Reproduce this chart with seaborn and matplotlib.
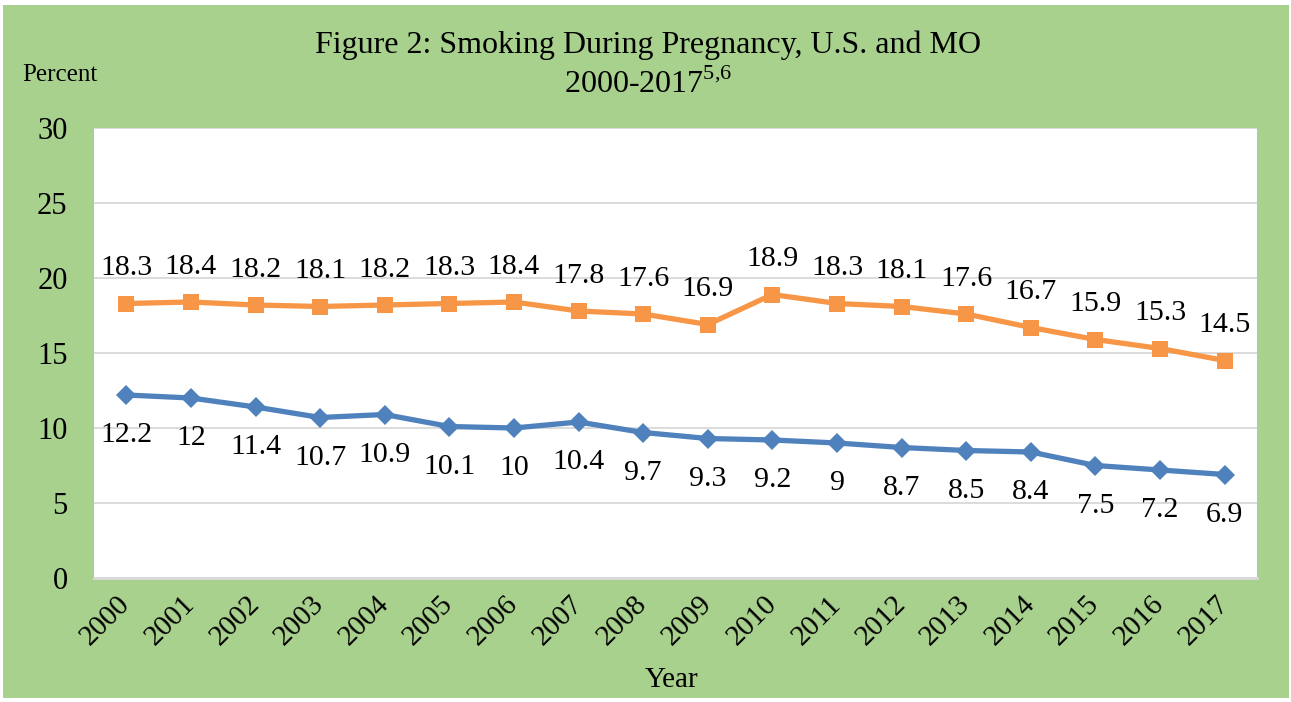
import pandas as pd
import seaborn as sns
import matplotlib.pyplot as plt
from matplotlib.patches import Rectangle

# Chart data
years = list(range(2000, 2018))
us_values = [12.2, 12, 11.4, 10.7, 10.9, 10.1, 10, 10.4, 9.7, 9.3, 9.2, 9, 8.7, 8.5, 8.4, 7.5, 7.2, 6.9]
mo_values = [18.3, 18.4, 18.2, 18.1, 18.2, 18.3, 18.4, 17.8, 17.6, 16.9, 18.9, 18.3, 18.1, 17.6, 16.7, 15.9, 15.3, 14.5]
series_names = ["U.S.", "MO"]
y_ticks = [0, 5, 10, 15, 20, 25, 30]

# Styling
bg_green = "#A9D18E"
blue = "#4F81BD"
orange = "#F79646"
grid_grey = "#D9D9D9"

sns.set_theme(style="white")
plt.rcParams["font.family"] = ["Liberation Serif", "DejaVu Serif"]
plt.rcParams["mathtext.fontset"] = "custom"
plt.rcParams["mathtext.rm"] = "Liberation Serif"
plt.rcParams["text.color"] = "black"
plt.rcParams["xtick.color"] = "black"
plt.rcParams["ytick.color"] = "black"

df = pd.DataFrame({
    "Year": years * 2,
    "Percent": us_values + mo_values,
    "Series": [series_names[0]] * len(years) + [series_names[1]] * len(years),
})

fig = plt.figure(figsize=(12.91, 7.02), dpi=100, facecolor="white")
W, H = 1291, 702
# green chart background with a thin white border
fig.patches.append(Rectangle((3 / W, 4 / H), (W - 5) / W, (H - 9) / H,
                             transform=fig.transFigure, facecolor=bg_green,
                             edgecolor="none", zorder=-10))

ax = fig.add_axes([94 / W, (H - 578) / H, (1257 - 94) / W, (578 - 128) / H])
ax.set_facecolor("white")

sns.lineplot(data=df, x="Year", y="Percent", hue="Series", style="Series",
             hue_order=series_names, style_order=series_names,
             palette={"U.S.": blue, "MO": orange},
             markers={"U.S.": "D", "MO": "s"}, dashes=False,
             linewidth=3.8, markersize=11, markeredgewidth=0,
             legend=False, ax=ax, zorder=3)

# adjust marker sizes per series
for line in ax.get_lines():
    if line.get_marker() == "D":
        line.set_markersize(10)
    else:
        line.set_markersize(12)

# data labels
for x, v in zip(years, mo_values):
    ax.annotate(f"{v:g}", (x, v), xytext=(0, 25.5), textcoords="offset points",
                ha="center", va="center", fontsize=21.5, color="black")
for x, v in zip(years, us_values):
    ax.annotate(f"{v:g}", (x, v), xytext=(0, -29), textcoords="offset points",
                ha="center", va="center", fontsize=21.5, color="black")

ax.set_xlim(1999.5, 2017.5)
ax.set_ylim(0, 30)
ax.set_yticks(y_ticks)
ax.set_xticks(years)
ax.set_xticklabels([str(y) for y in years], rotation=45, ha="right",
                   va="center", rotation_mode="anchor", fontsize=21)
ax.tick_params(axis="x", length=0, pad=16)
ax.tick_params(axis="y", length=0, pad=19, labelsize=22)
ax.yaxis.grid(True, color=grid_grey, linewidth=1.3)
ax.xaxis.grid(False)
for side in ["top", "right", "left"]:
    ax.spines[side].set_visible(False)
ax.spines["bottom"].set_color(grid_grey)
ax.spines["bottom"].set_linewidth(2)
ax.set_xlabel("")
ax.set_ylabel("")

# titles and axis titles
fig.text(648 / W, 1 - 45 / H, "Figure 2: Smoking During Pregnancy, U.S. and MO",
         ha="center", va="center", fontsize=23)
fig.text(648 / W, 1 - 84 / H, r"2000-2017$^{\mathrm{5{,}6}}$",
         ha="center", va="center", fontsize=23)
fig.text(60 / W, 1 - 75 / H, "Percent", ha="center", va="center", fontsize=18)
fig.text(672 / W, 1 - 680 / H, "Year", ha="center", va="center", fontsize=21)

fig.savefig("out.png", dpi=100, facecolor=fig.get_facecolor())
